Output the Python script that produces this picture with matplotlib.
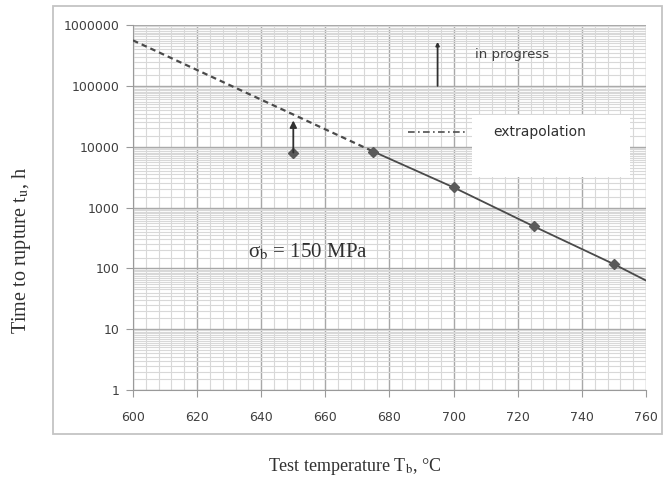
import numpy as np
import matplotlib
matplotlib.use("Agg")
import matplotlib.pyplot as plt
from matplotlib.patches import Rectangle
from matplotlib.ticker import FixedLocator, NullFormatter

# measured rupture points (test temperature, time to rupture)
test_temp = [650, 675, 700, 725, 750]
rupture_time = [8000, 8300, 2140, 490, 117]

# fitted curve through the points, then extrapolation to low temperature
fit_temp = [675, 700, 725, 750, 760]
fit_time = [8300, 2140, 490, 117, 63]
extrap_temp = [600, 675]
extrap_time = [560000, 8300]

# arrow for the 650 C test that ran longer than the point shows
arrow650_temp = 650
arrow650_from, arrow650_to = 8000, 27000

# "in progress" test
progress_temp = 695
progress_from, progress_to = 100000, 530000

x_ticks = list(range(600, 761, 20))
y_ticks = [1, 10, 100, 1000, 10000, 100000, 1000000]
y_labels = ["1", "10", "100", "1000", "10000", "100000", "1000000"]

fig = plt.figure(figsize=(6.65, 4.82), dpi=100)
ax = fig.add_axes([0.2, 0.191, 0.7714, 0.757])

# outer chart frame
fig.patches.append(Rectangle((0.08, 0.0996), 0.916, 0.888, transform=fig.transFigure,
                             fill=False, edgecolor="#c4c4c4", lw=1.3, zorder=0))

ax.set_yscale("log")
ax.set_xlim(600, 760)
ax.set_ylim(1, 1000000)

ax.set_xticks(x_ticks)
ax.xaxis.set_minor_locator(FixedLocator(np.arange(600, 761, 4)))
ax.set_yticks(y_ticks)
ax.set_yticklabels(y_labels)
minor_y = [d * s for d in y_ticks[:-1] for s in np.arange(1.5, 10, 0.5)]
ax.yaxis.set_minor_locator(FixedLocator(minor_y))
ax.yaxis.set_minor_formatter(NullFormatter())

ax.grid(True, which="minor", color="#d8d8d8", lw=0.8)
ax.grid(True, which="major", color="#a8a8a8", lw=1.0)
ax.set_axisbelow(True)

for s in ["top", "right"]:
    ax.spines[s].set_visible(False)
for s in ["left", "bottom"]:
    ax.spines[s].set_color("#9a9a9a")
ax.tick_params(which="major", direction="out", length=5, color="#9a9a9a",
               labelsize=9, labelcolor="#404040")
ax.tick_params(axis="x", which="major", pad=10)
ax.tick_params(axis="y", which="major", pad=5)
ax.tick_params(which="minor", length=0)

ax.plot(extrap_temp, extrap_time, color="#4a4a4a", lw=1.6, ls=(0, (2.5, 1.8)), zorder=3)
ax.plot(fit_temp, fit_time, color="#4a4a4a", lw=1.3, zorder=3)
ax.plot(test_temp, rupture_time, ls="none", marker="D", ms=5.5, color="#5a5a5a", zorder=4)

ax.annotate("", xy=(arrow650_temp, arrow650_to), xytext=(arrow650_temp, arrow650_from),
            arrowprops=dict(arrowstyle="-|>", color="#303030", lw=1.3,
                            mutation_scale=10, shrinkA=0, shrinkB=0), zorder=5)
ax.annotate("", xy=(progress_temp, progress_to), xytext=(progress_temp, progress_from),
            arrowprops=dict(arrowstyle="-|>", color="#303030", lw=1.3,
                            mutation_scale=5, shrinkA=0, shrinkB=0), zorder=5)

ax.text(0.667, 0.918, "in progress", transform=ax.transAxes, fontsize=9.5,
        color="#404040", va="center", ha="left")

# extrapolation key (white box, sample line outside of it)
ax.add_patch(Rectangle((0.661, 0.584), 0.308, 0.169, transform=ax.transAxes,
                       facecolor="white", edgecolor="none", zorder=6))
ax.plot([0.536, 0.647], [0.707, 0.707], transform=ax.transAxes, color="#505050",
        lw=1.2, ls=(0, (4, 2, 1, 2)), zorder=6)
ax.text(0.702, 0.707, "extrapolation", transform=ax.transAxes, fontsize=10,
        color="#303030", va="center", ha="left", zorder=7)

ax.text(0.224, 0.378, r"σ$_\mathrm{b}$ = 150 MPa", transform=ax.transAxes, fontsize=15,
        family="Liberation Serif", color="#303030", va="center", ha="left",
        math_fontfamily="stix")

fig.text(0.534, 0.033, r"Test temperature T$_\mathrm{b}$, °C", ha="center", va="center",
         fontsize=13, family="Liberation Serif", color="#303030", math_fontfamily="stix")
fig.text(0.032, 0.481, r"Time to rupture t$_\mathrm{u}$, h", ha="center", va="center",
         rotation=90, fontsize=14.5, family="Liberation Serif", color="#303030",
         math_fontfamily="stix")

fig.savefig("out.png", dpi=100)
